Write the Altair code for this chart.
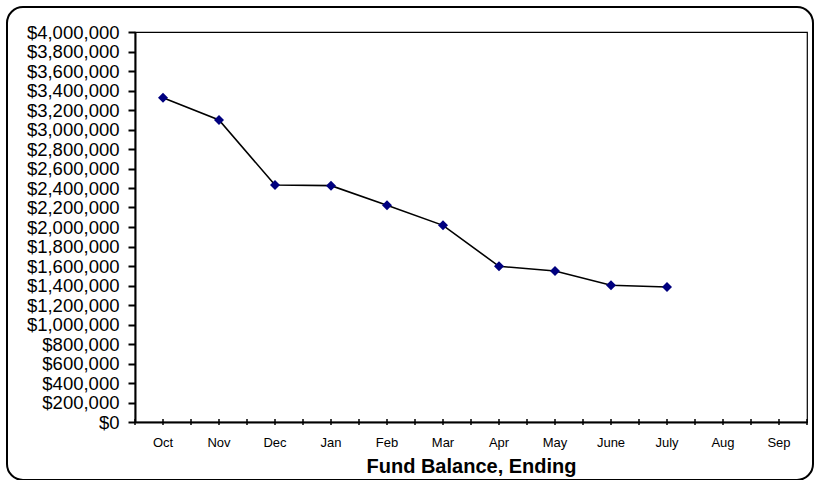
import altair as alt
import pandas as pd

# Fiscal-year months (Oct through Sep) and month-end fund balances
months = ["Oct", "Nov", "Dec", "Jan", "Feb", "Mar", "Apr", "May", "June", "July", "Aug", "Sep"]
reported_months = ["Oct", "Nov", "Dec", "Jan", "Feb", "Mar", "Apr", "May", "June", "July"]
balances = [3326000, 3097000, 2431000, 2424000, 2222000, 2017000, 1597000, 1549000, 1402000, 1385000]
y_ticks = list(range(0, 4000001, 200000))

FONT = "Liberation Sans, Arial, sans-serif"
W, H = 672, 390

df = pd.DataFrame({"month": reported_months, "balance": balances})
tick_df = pd.DataFrame({"month": months})

x_scale = alt.Scale(domain=months, paddingInner=0, paddingOuter=0)
y_scale = alt.Scale(domain=[0, 4000000], nice=False, zero=True)

x_enc = alt.X(
    "month:N",
    scale=x_scale,
    sort=None,
    title="Fund Balance, Ending",
    axis=alt.Axis(
        labelAngle=0,
        labelFont=FONT,
        labelFontSize=13,
        labelColor="#000",
        labelPadding=14,
        ticks=False,
        tickSize=0,
        domainColor="#000",
        domainWidth=2,
        titleFont=FONT,
        titleFontSize=20,
        titleFontWeight="bold",
        titleColor="#000",
        titlePadding=7,
    ),
)

y_enc = alt.Y(
    "balance:Q",
    scale=y_scale,
    title=None,
    axis=alt.Axis(
        values=y_ticks,
        format="$,.0f",
        grid=False,
        labelFont=FONT,
        labelFontSize=18.5,
        labelColor="#000",
        labelPadding=9,
        tickSize=7,
        tickWidth=2,
        tickColor="#000",
        domainColor="#000",
        domainWidth=2,
        labelOverlap=False,
    ),
)

line = alt.Chart(df).mark_line(color="#000", strokeWidth=1.6).encode(x=x_enc, y=y_enc)
points = alt.Chart(df).mark_point(
    shape="diamond", filled=True, color="#00007f", size=100, opacity=1
).encode(x=x_enc, y=y_enc)

# small cross ticks on the category axis: at band centres and band edges
center_ticks = alt.Chart(tick_df).mark_rule(color="#000", strokeWidth=1.5).encode(
    x=alt.X("month:N", scale=x_scale, sort=None),
    y=alt.value(H - 3),
    y2=alt.value(H + 3),
)
edge_ticks = alt.Chart(tick_df).mark_rule(color="#000", strokeWidth=1.5, xOffset=-W / 24).encode(
    x=alt.X("month:N", scale=x_scale, sort=None),
    y=alt.value(H - 3),
    y2=alt.value(H + 3),
)
end_tick = alt.Chart(alt.Data(values=[{}])).mark_rule(color="#000", strokeWidth=1.5).encode(
    x=alt.value(W), y=alt.value(H - 3), y2=alt.value(H + 3)
)

# rounded outer frame around the whole chart
frame = alt.Chart(alt.Data(values=[{}])).mark_rect(
    fillOpacity=0, stroke="#000", strokeWidth=2, cornerRadius=16, clip=False
).encode(
    x=alt.value(-128), x2=alt.value(678), y=alt.value(-25), y2=alt.value(448)
)

chart = (
    alt.layer(frame, line, points, center_ticks, edge_ticks, end_tick)
    .properties(
        width=W,
        height=H,
        autosize=alt.AutoSizeParams(type="none"),
        padding={"left": 135, "top": 32, "right": 7, "bottom": 58},
        background="#ffffff",
    )
    .configure_view(stroke="#000", strokeWidth=1.2)
)

chart.save("out.html", embed_options={"renderer": "svg", "actions": False})
